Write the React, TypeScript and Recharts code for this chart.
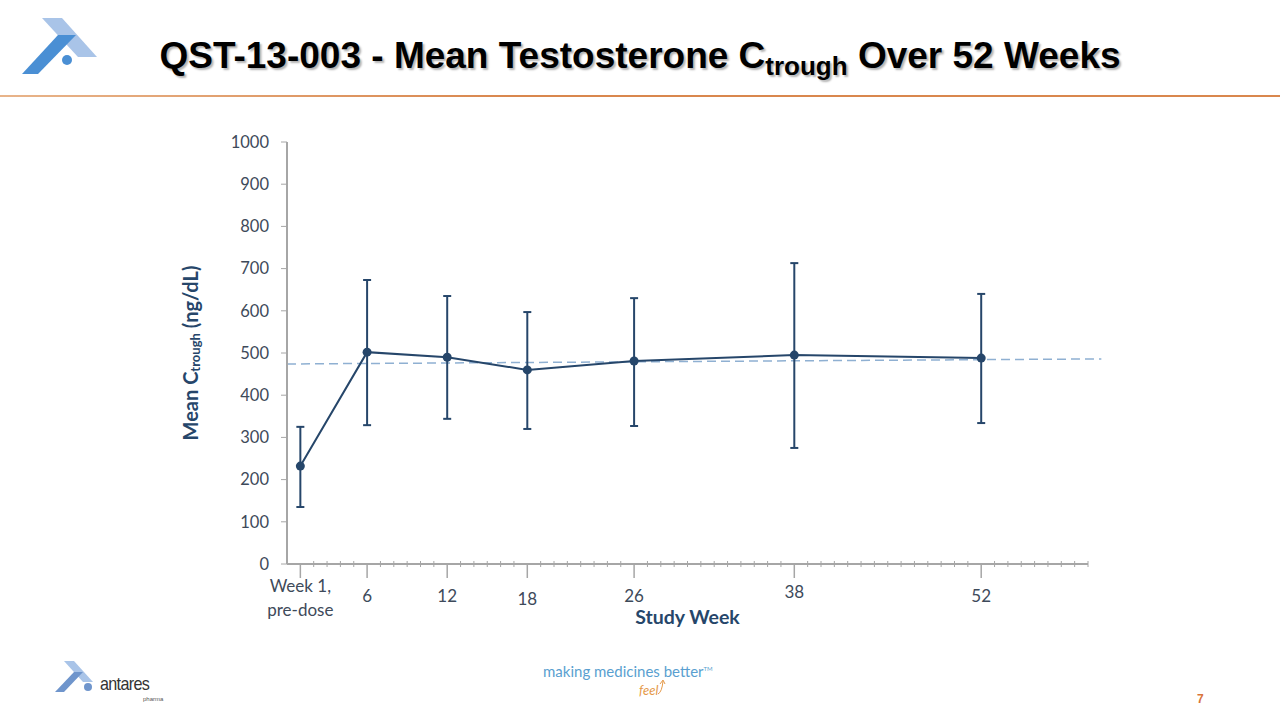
import React from "react";
import { LineChart, Line, XAxis, YAxis, ErrorBar, ReferenceLine, Label } from "recharts";

const weeks = [1, 6, 12, 18, 26, 38, 52];
const weekLabels = ["Week 1,|pre-dose", "6", "12", "18", "26", "38", "52"];
const meanValues = [232, 502, 490, 460, 481, 495, 488];
const upperValues = [325, 673, 635, 597, 630, 713, 640];
const lowerValues = [135, 329, 344, 320, 327, 275, 334];
const trendWeeks = [0, 61];
const trendValues = [474, 486];
const yTicks = [0, 100, 200, 300, 400, 500, 600, 700, 800, 900, 1000];
const minorWeeks = Array.from({ length: 60 }, (_, i) => i + 1);

const data = weeks.map((w, i) => ({
  week: w,
  mean: meanValues[i],
  err: [meanValues[i] - lowerValues[i], upperValues[i] - meanValues[i]],
}));

const NAVY = "#26466a";
const TICK_TEXT = "#3e4a5a";
const AXIS = "#a6a6a6";
const FONT = "Lato, 'Open Sans', sans-serif";

const labelDy: Record<number, number> = { 18: 3, 38: -4 };

const XTick = (props: any) => {
  const { x, y, payload } = props;
  const v = payload.value;
  const idx = weeks.indexOf(v);
  if (idx < 0) {
    return <line x1={x} x2={x} y1={y - 3} y2={y + 3} stroke={AXIS} strokeWidth={1} />;
  }
  const lines = weekLabels[idx].split("|");
  const dy = labelDy[v] || 0;
  return (
    <g>
      <line x1={x} x2={x} y1={y} y2={y + 14} stroke={AXIS} strokeWidth={1.5} />
      {lines.length > 1 ? (
        <text x={x} y={y} textAnchor="middle" fill={TICK_TEXT} fontSize={17} fontFamily={FONT}>
          <tspan x={x} dy={28}>{lines[0]}</tspan>
          <tspan x={x} dy={24}>{lines[1]}</tspan>
        </text>
      ) : (
        <text x={x} y={y + 38 + dy} textAnchor="middle" fill={TICK_TEXT} fontSize={17} fontFamily={FONT}>
          {lines[0]}
        </text>
      )}
    </g>
  );
};

const YLabel = (props: any) => {
  const vb = props.viewBox || {};
  const cy = vb.y + vb.height / 2;
  return (
    <text
      transform={`translate(${193}, ${cy}) rotate(-90)`}
      textAnchor="middle"
      fill={NAVY}
      fontSize={20}
      fontWeight="bold"
      fontFamily={FONT}
      dominantBaseline="middle"
    >
      <tspan>Mean C</tspan>
      <tspan fontSize={13} dy={4}>trough</tspan>
      <tspan dy={-4}> (ng/dL)</tspan>
    </text>
  );
};

export default function App() {
  const trendSegment = trendWeeks.map((w, i) => ({ x: w, y: trendValues[i] }));
  return (
    <div style={{ position: "absolute", left: 0, top: 0, width: 1280, height: 720, background: "#fff", overflow: "hidden" }}>
      <svg style={{ position: "absolute", left: 0, top: 0 }} width={120} height={90}>
        <polygon points="42,18 62,18 97,57 78,57" fill="#a9c4e8" />
        <polygon points="22,74 38,74 76,35 58,35" fill="#4a8fd4" />
        <circle cx={67} cy={60} r={5} fill="#4a8fd4" />
      </svg>
      <div
        style={{
          position: "absolute",
          left: 0,
          width: 1280,
          top: 35,
          textAlign: "center",
          fontFamily: "'Liberation Sans', Arial, sans-serif",
          fontWeight: "bold",
          fontSize: 37,
          color: "#000",
          textShadow: "2px 2px 2px rgba(0,0,0,0.3)",
          whiteSpace: "nowrap",
        }}
      >
        QST-13-003 - Mean Testosterone C<sub style={{ fontSize: 26, verticalAlign: "-7px" }}>trough</sub> Over 52 Weeks
      </div>
      <div
        style={{
          position: "absolute",
          left: 0,
          top: 95,
          width: 1280,
          height: 2,
          background: "linear-gradient(to right, #e8b48a, #d9874e 40%, #d9874e)",
        }}
      />
      <div style={{ position: "absolute", left: 0, top: 0 }}>
        <LineChart width={1280} height={720} data={data} margin={{ top: 142, right: 192, bottom: 96, left: 227 }}>
          <XAxis
            dataKey="week"
            type="number"
            domain={[0, 60]}
            ticks={minorWeeks}
            interval={0}
            tick={<XTick />}
            tickLine={false}
            tickSize={0}
            tickMargin={0}
            height={60}
            axisLine={{ stroke: AXIS, strokeWidth: 2 }}
          >
            <Label
              content={(p: any) => {
                const vb = p.viewBox;
                return (
                  <text x={vb.x + vb.width / 2} y={vb.y + 60} textAnchor="middle" fill={NAVY} fontSize={19.5} fontWeight="bold" fontFamily={FONT}>
                    Study Week
                  </text>
                );
              }}
            />
          </XAxis>
          <YAxis
            type="number"
            domain={[0, 1000]}
            ticks={yTicks}
            interval={0}
            width={60}
            tickSize={6}
            tickMargin={12}
            axisLine={{ stroke: AXIS, strokeWidth: 2 }}
            tickLine={{ stroke: AXIS }}
            tick={{ fill: TICK_TEXT, fontSize: 16.5, fontFamily: FONT }}
          >
            <Label content={<YLabel />} />
          </YAxis>
          <ReferenceLine
            segment={trendSegment}
            ifOverflow="visible"
            stroke="#8fb0d2"
            strokeWidth={1.5}
            strokeDasharray="9 5"
          />
          <Line
            dataKey="mean"
            stroke={NAVY}
            strokeWidth={2}
            dot={{ r: 4.5, fill: NAVY, stroke: NAVY, strokeWidth: 0 }}
            isAnimationActive={false}
          >
            <ErrorBar dataKey="err" width={4} stroke={NAVY} strokeWidth={2} direction="y" />
          </Line>
        </LineChart>
      </div>
      <svg style={{ position: "absolute", left: 50, top: 655 }} width={60} height={45}>
        <polygon points="14,6 24,6 43,27 33,27" fill="#a9c4e8" />
        <polygon points="5,37 14,37 33,17 24,17" fill="#6f95cc" />
        <circle cx={38} cy={32} r={4} fill="#6f95cc" />
      </svg>
      <div style={{ position: "absolute", left: 100, top: 673, fontFamily: "'Liberation Sans', sans-serif", fontSize: 19, letterSpacing: -0.8, transform: "scaleX(0.85)", transformOrigin: "left", color: "#333" }}>
        antares
      </div>
      <div style={{ position: "absolute", left: 143, top: 696, fontFamily: "'Liberation Sans', sans-serif", fontSize: 6, color: "#555" }}>
        pharma
      </div>
      <div style={{ position: "absolute", left: 543, top: 662, fontFamily: FONT, fontSize: 15, color: "#5a9fd0", whiteSpace: "nowrap" }}>
        making medicines better<span style={{ fontSize: 6, verticalAlign: "6px" }}>TM</span>
      </div>
      <div style={{ position: "absolute", left: 639, top: 682, fontFamily: FONT, fontStyle: "italic", fontSize: 13, color: "#e59a4a" }}>
        feel
      </div>
      <svg style={{ position: "absolute", left: 656, top: 678 }} width={14} height={20}>
        <path d="M2,16 Q6,14 7,3 M4,6 L7,2 L9,6" stroke="#e59a4a" strokeWidth={1} fill="none" />
      </svg>
      <div style={{ position: "absolute", left: 1197, top: 692, fontFamily: "'Liberation Sans', sans-serif", fontWeight: "bold", fontSize: 12, color: "#d9743a" }}>
        7
      </div>
    </div>
  );
}
